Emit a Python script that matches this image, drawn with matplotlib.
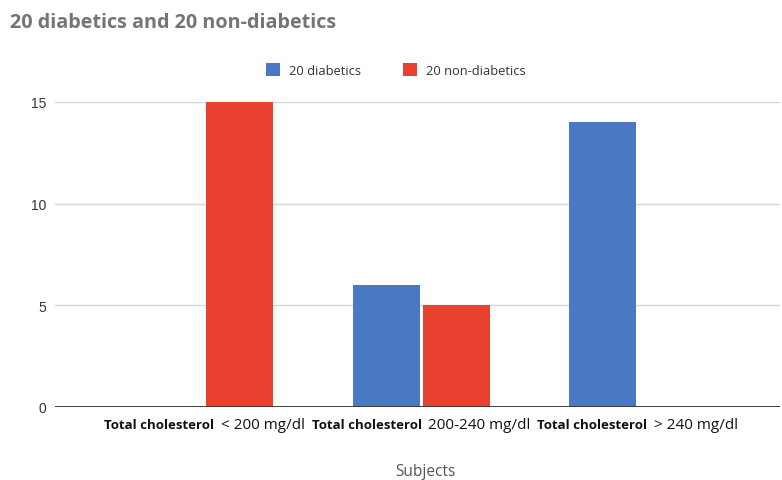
import numpy as np
import matplotlib
matplotlib.use('Agg')
import matplotlib.pyplot as plt
from matplotlib.offsetbox import TextArea, HPacker, AnnotationBbox

categories_bold = ['Total cholesterol', 'Total cholesterol', 'Total cholesterol']
categories_rest = ['< 200 mg/dl', '200-240 mg/dl', '> 240 mg/dl']
diabetics = [0, 6, 14]
non_diabetics = [15, 5, 0]
series_names = ['20 diabetics', '20 non-diabetics']
yticks = [0, 5, 10, 15]

blue = '#4a78c4'
red = '#e8412f'

fig = plt.figure(figsize=(7.82, 4.81), dpi=100)
ax = fig.add_axes([0.070, 0.152, 0.927, 0.634])

x = np.arange(len(categories_rest))
w = 0.31
gap = 0.007
ax.bar(x - w / 2 - gap, diabetics, w, color=blue, label=series_names[0], zorder=3)
ax.bar(x + w / 2 + gap, non_diabetics, w, color=red, label=series_names[1], zorder=3)

ax.set_xlim(-0.693, 2.656)
ax.set_ylim(0, 15)
ax.set_yticks(yticks)
ax.set_yticklabels([str(t) for t in yticks], family='Liberation Sans', fontsize=10, color='#333333')
ax.tick_params(axis='y', length=0, pad=6)
ax.set_xticks([])
ax.yaxis.grid(True, color='#d6d6d6', linewidth=1, zorder=0)
ax.set_axisbelow(True)
for s in ['top', 'right', 'left', 'bottom']:
    ax.spines[s].set_visible(False)
ax.axhline(0, color='#333333', linewidth=1.3, zorder=4)

# category labels: bold prefix followed by plain range text
for i in x:
    bold = TextArea(categories_bold[i], textprops=dict(family='Open Sans', fontweight='bold',
                                                        fontsize=9.5, color='#111111'))
    rest = TextArea(categories_rest[i], textprops=dict(family='Open Sans', fontsize=11,
                                                        color='#111111'))
    box = HPacker(children=[bold, rest], align='baseline', pad=0, sep=5)
    ab = AnnotationBbox(box, (i, 0), xycoords=ax.get_xaxis_transform(),
                        xybox=(0, -7.5), boxcoords='offset points',
                        box_alignment=(0.5, 1), frameon=False, annotation_clip=False)
    ax.add_artist(ab)

fig.text(0.0128, 0.952, '20 diabetics and 20 non-diabetics', family='Open Sans',
         fontweight='bold', fontsize=14.2, color='#757575', va='center', ha='left')
fig.text(0.544, 0.019, 'Subjects', family='Open Sans', fontsize=11.2, color='#555555',
         ha='center', va='center')

leg = fig.legend(loc='center', bbox_to_anchor=(0.506, 0.852), ncol=2, frameon=False,
                 prop=dict(family='Open Sans', size=9.3), handlelength=1.1, handleheight=1.1,
                 handletextpad=0.7, columnspacing=3.2)
for t in leg.get_texts():
    t.set_color('#333333')

fig.savefig('out.png', dpi=100)
